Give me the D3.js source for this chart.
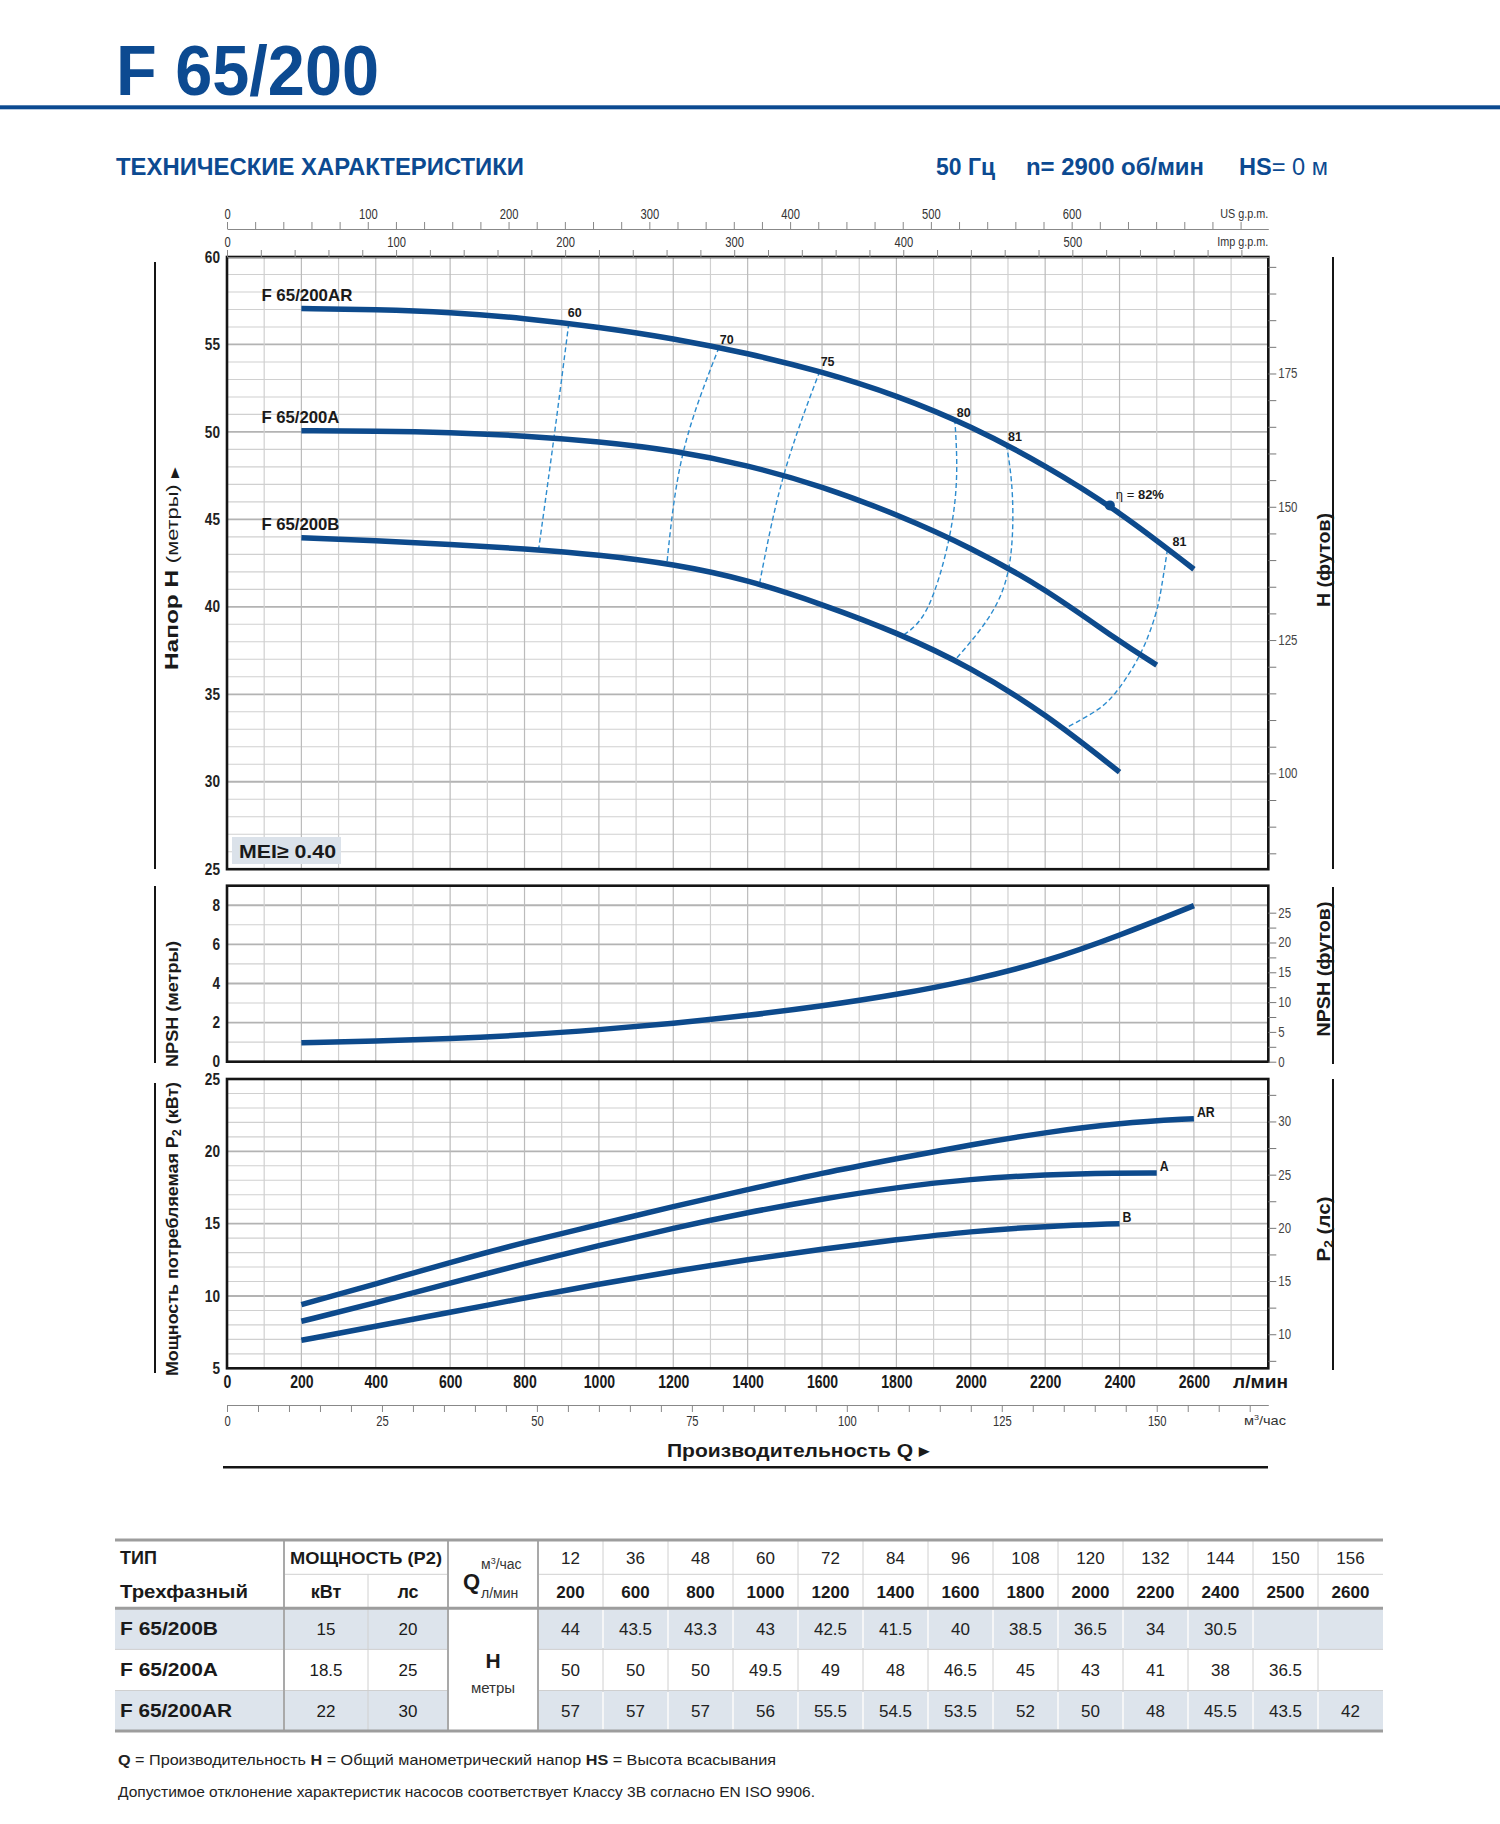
<!DOCTYPE html>
<html>
<head>
<meta charset="utf-8">
<script src="https://cdn.jsdelivr.net/npm/d3@7"></script>
<style>
  html, body { margin: 0; padding: 0; background: #fff; }
  svg { display: block; font-family: "Liberation Sans", Arial, sans-serif; }
</style>
</head>
<body>
<svg id="chart" width="1500" height="1824"></svg>
<script>
// ---- curve data (Q in l/min) ----
var flowAR = [200, 400, 600, 800, 1000, 1200, 1400, 1600, 1800, 2000, 2200, 2400, 2600];
var flowA  = [200, 400, 600, 800, 1000, 1200, 1400, 1600, 1800, 2000, 2200, 2400, 2500];
var flowB  = [200, 400, 600, 800, 1000, 1200, 1400, 1600, 1800, 2000, 2200, 2400];

var headAR = [57.05, 57.0, 56.85, 56.5, 56.0, 55.35, 54.5, 53.45, 52.1, 50.35, 48.1, 45.45, 42.15];
var headA  = [50.07, 50.05, 49.97, 49.78, 49.45, 48.95, 48.1, 46.9, 45.3, 43.4, 41.05, 38.0, 36.67];
var headB  = [43.95, 43.78, 43.58, 43.32, 42.98, 42.45, 41.55, 40.15, 38.55, 36.55, 33.9, 30.55];

var npsh = [0.97, 1.05, 1.17, 1.36, 1.63, 1.96, 2.36, 2.84, 3.42, 4.15, 5.1, 6.45, 7.98];

var powerAR = [9.4, 10.83, 12.33, 13.71, 14.93, 16.2, 17.35, 18.5, 19.49, 20.46, 21.31, 21.96, 22.26];
var powerA  = [8.25, 9.52, 10.9, 12.24, 13.48, 14.7, 15.78, 16.71, 17.51, 18.09, 18.39, 18.5, 18.5];
var powerB  = [6.94, 7.9, 8.87, 9.86, 10.83, 11.71, 12.51, 13.25, 13.89, 14.47, 14.82, 15.0];

var curveNames = ["F 65/200AR", "F 65/200A", "F 65/200B"];
var powerNames = ["AR", "A", "B"];

// efficiency iso-lines (Q, H pairs across the three curves)
var effNames = ["60", "70", "75", "80", "81", "81"];
var effFlows = [
  [919, 879, 838],
  [1323, 1227, 1183],
  [1594, 1497, 1432],
  [1957, 1962, 1942, 1885, 1818],
  [2096, 2112, 2102, 2044, 1958],
  [2529, 2513, 2495, 2455, 2398, 2341, 2253]
];
var effHeads = [
  [56.2, 49.65, 43.3],
  [54.83, 48.85, 42.5],
  [53.48, 47.52, 41.33],
  [50.73, 47.6, 43.95, 40.0, 38.37],
  [49.27, 46.3, 42.2, 39.25, 36.97],
  [43.3, 41.15, 39.43, 37.27, 35.33, 34.12, 33.05]
];
var effLabelQ = [935, 1344, 1615, 1981, 2119, 2561];
var effLabelH = [56.8, 55.25, 54.0, 51.1, 49.73, 43.72];
var bestQ = 2374, bestH = 45.8;

// ---- tick labels ----
var hTicks = [25, 30, 35, 40, 45, 50, 55, 60];
var ftLabels = [100, 125, 150, 175];
var npshTicks = [0, 2, 4, 6, 8];
var npshFtLabels = [0, 5, 10, 15, 20, 25];
var powerTicks = [5, 10, 15, 20, 25];
var hpLabels = [10, 15, 20, 25, 30];
var qTicks = [0, 200, 400, 600, 800, 1000, 1200, 1400, 1600, 1800, 2000, 2200, 2400, 2600];
var m3Labels = [0, 25, 50, 75, 100, 125, 150];
var usLabels = [0, 100, 200, 300, 400, 500, 600];
var impLabels = [0, 100, 200, 300, 400, 500];

// ---- table ----
var tableM3h = ["12", "36", "48", "60", "72", "84", "96", "108", "120", "132", "144", "150", "156"];
var tableLpm = ["200", "600", "800", "1000", "1200", "1400", "1600", "1800", "2000", "2200", "2400", "2500", "2600"];
var tableModels = ["F 65/200B", "F 65/200A", "F 65/200AR"];
var tableKw = ["15", "18.5", "22"];
var tableHp = ["20", "25", "30"];
var tableHeadB  = ["44", "43.5", "43.3", "43", "42.5", "41.5", "40", "38.5", "36.5", "34", "30.5", "", ""];
var tableHeadA  = ["50", "50", "50", "49.5", "49", "48", "46.5", "45", "43", "41", "38", "36.5", ""];
var tableHeadAR = ["57", "57", "57", "56", "55.5", "54.5", "53.5", "52", "50", "48", "45.5", "43.5", "42"];

// ---------------------------------------------------------------
var svg = d3.select("#chart");
var FONT = '"Liberation Sans", Arial, sans-serif';
var navy = "#0c4a91";
var lineBlue = "#0d4a8c";
var effBlue = "#2c8ccf";
var ink = "#1a1a1a";

var x = d3.scaleLinear().domain([0, 2800]).range([227, 1268.3]);
var yH = d3.scaleLinear().domain([25, 60]).range([869.2, 257]);
var yN = d3.scaleLinear().domain([0, 9]).range([1061.7, 885.7]);
var yP = d3.scaleLinear().domain([5, 25]).range([1368.3, 1079]);

function squeeze(sel, k) {
  sel.each(function () {
    var L = this.getComputedTextLength();
    if (L > 0) d3.select(this).attr("textLength", L * k).attr("lengthAdjust", "spacingAndGlyphs");
  });
}
function fit(sel, w) {
  sel.attr("textLength", w).attr("lengthAdjust", "spacingAndGlyphs");
}
function zip(a, b) { return a.map(function (d, i) { return [d, b[i]]; }); }

// ---- header ----
svg.append("text").attr("x", 116).attr("y", 95).attr("font-size", 70).attr("font-weight", 700)
  .attr("fill", navy).text("F 65/200").call(fit, 263);
svg.append("rect").attr("x", 0).attr("y", 105.3).attr("width", 1500).attr("height", 4).attr("fill", navy);
svg.append("text").attr("x", 116).attr("y", 175).attr("font-size", 23).attr("font-weight", 700)
  .attr("fill", navy).text("ТЕХНИЧЕСКИЕ ХАРАКТЕРИСТИКИ").call(fit, 408);
svg.append("text").attr("x", 936).attr("y", 175).attr("font-size", 23).attr("font-weight", 700)
  .attr("fill", navy).text("50 Гц").call(fit, 59);
svg.append("text").attr("x", 1026).attr("y", 175).attr("font-size", 23).attr("font-weight", 700)
  .attr("fill", navy).text("n= 2900 об/мин").call(fit, 178);
var hsT = svg.append("text").attr("x", 1239).attr("y", 175).attr("font-size", 23).attr("fill", navy);
hsT.append("tspan").attr("font-weight", 700).text("HS");
hsT.append("tspan").text("= 0 м");
hsT.call(fit, 89);

// ---- grid helper ----
var gridQ = d3.range(100, 2800, 100);
function panel(yScale, minorStep, majorStep) {
  var g = svg.append("g");
  var y0 = yScale.range()[0], y1 = yScale.range()[1];
  var d0 = yScale.domain()[0], d1 = yScale.domain()[1];
  var hs = d3.range(d0 + minorStep, d1, minorStep);
  function isMajor(d) { return Math.abs(d / majorStep - Math.round(d / majorStep)) < 1e-6; }
  g.selectAll("line.h").data(hs).join("line")
    .attr("x1", x(0)).attr("x2", x(2800))
    .attr("y1", function (d) { return yScale(d); }).attr("y2", function (d) { return yScale(d); })
    .attr("stroke", function (d) { return isMajor(d) ? "#b3b3b3" : "#d0d0d0"; })
    .attr("stroke-width", function (d) { return isMajor(d) ? 1.8 : 1.1; });
  g.selectAll("line.v").data(gridQ).join("line")
    .attr("x1", function (d) { return x(d); }).attr("x2", function (d) { return x(d); })
    .attr("y1", y1).attr("y2", y0)
    .attr("stroke", function (d) { return d % 200 === 0 ? "#bbbbbb" : "#d0d0d0"; })
    .attr("stroke-width", 1.2);
  return g;
}
function frame(yScale) {
  var y0 = yScale.range()[0], y1 = yScale.range()[1];
  svg.append("rect").attr("x", x(0)).attr("y", y1).attr("width", x(2800) - x(0)).attr("height", y0 - y1)
    .attr("fill", "none").attr("stroke", "#151515").attr("stroke-width", 2.6);
}

// ---- main H-Q panel ----
panel(yH, 1, 5);

// MEI box
svg.append("rect").attr("x", 232).attr("y", 837).attr("width", 109).attr("height", 27).attr("fill", "#dbe2ea");
svg.append("text").attr("x", 239).attr("y", 858).attr("font-size", 19).attr("font-weight", 700)
  .attr("fill", ink).text("MEI≥ 0.40").call(fit, 97);

// efficiency lines
var effLine = d3.line().x(function (d) { return x(d[0]); }).y(function (d) { return yH(d[1]); })
  .curve(d3.curveNatural);
svg.append("g").selectAll("path").data(effFlows.map(function (f, i) { return zip(f, effHeads[i]); }))
  .join("path").attr("d", effLine).attr("fill", "none").attr("stroke", effBlue)
  .attr("stroke-width", 1.4).attr("stroke-dasharray", "5,3");

// H-Q curves
var hqLine = d3.line().x(function (d) { return x(d[0]); }).y(function (d) { return yH(d[1]); })
  .curve(d3.curveBasis);
var hqData = [zip(flowAR, headAR), zip(flowA, headA), zip(flowB, headB)];
svg.append("g").selectAll("path").data(hqData).join("path")
  .attr("d", hqLine).attr("fill", "none").attr("stroke", lineBlue).attr("stroke-width", 5.5);

svg.append("g").selectAll("text").data(hqData).join("text")
  .attr("x", function (d) { return x(d[0][0]) - 40; })
  .attr("y", function (d) { return yH(d[0][1]) - 8; })
  .attr("font-size", 17).attr("font-weight", 700).attr("fill", ink)
  .text(function (d, i) { return curveNames[i]; })
  .each(function (d, i) { d3.select(this).call(fit, i === 0 ? 91 : 78); });

svg.append("g").selectAll("text").data(effNames).join("text")
  .attr("x", function (d, i) { return x(effLabelQ[i]); })
  .attr("y", function (d, i) { return yH(effLabelH[i]); })
  .attr("dy", "0.35em").attr("text-anchor", "middle")
  .attr("font-size", 12.5).attr("font-weight", 700).attr("fill", ink)
  .text(function (d) { return d; });

svg.append("circle").attr("cx", x(bestQ)).attr("cy", yH(bestH)).attr("r", 5).attr("fill", lineBlue);
var etaT = svg.append("text").attr("x", x(bestQ) + 6).attr("y", yH(bestH) - 6)
  .attr("font-size", 13).attr("fill", ink);
etaT.append("tspan").text("η = ");
etaT.append("tspan").attr("font-weight", 700).text("82%");

frame(yH);

// ---- NPSH panel ----
panel(yN, 1, 2);
svg.append("path").datum(zip(flowAR, npsh))
  .attr("d", d3.line().x(function (d) { return x(d[0]); }).y(function (d) { return yN(d[1]); }).curve(d3.curveBasis))
  .attr("fill", "none").attr("stroke", lineBlue).attr("stroke-width", 5.5);
frame(yN);

// ---- power panel ----
panel(yP, 1, 5);
var pLine = d3.line().x(function (d) { return x(d[0]); }).y(function (d) { return yP(d[1]); }).curve(d3.curveBasis);
var pData = [zip(flowAR, powerAR), zip(flowA, powerA), zip(flowB, powerB)];
svg.append("g").selectAll("path").data(pData).join("path")
  .attr("d", pLine).attr("fill", "none").attr("stroke", lineBlue).attr("stroke-width", 5.5);
svg.append("g").selectAll("text").data(pData).join("text")
  .attr("x", function (d) { return x(d[d.length - 1][0]) + 3; })
  .attr("y", function (d) { return yP(d[d.length - 1][1]) - 2; })
  .attr("font-size", 15).attr("font-weight", 700).attr("fill", ink)
  .text(function (d, i) { return powerNames[i]; })
  .call(squeeze, 0.82);
frame(yP);

// ---- left axes ----
function leftAxis(scale, vals) {
  var g = svg.append("g").attr("transform", "translate(" + x(0) + ",0)")
    .call(d3.axisLeft(scale).tickValues(vals).tickSize(0).tickPadding(7));
  g.select(".domain").remove();
  g.attr("font-family", FONT).attr("font-size", 16).attr("font-weight", 700);
  g.selectAll("text").attr("fill", "#222").call(squeeze, 0.85);
}
leftAxis(yH, hTicks);
leftAxis(yN, npshTicks);
leftAxis(yP, powerTicks);

// ---- right axes ----
function rightAxis(scale, vals, labels) {
  var g = svg.append("g").attr("transform", "translate(" + x(2800) + ",0)")
    .call(d3.axisRight(scale).tickValues(vals).tickSize(8).tickPadding(2)
      .tickFormat(function (d) { return labels.indexOf(d) >= 0 ? d : ""; }));
  g.select(".domain").remove();
  g.attr("font-family", FONT).attr("font-size", 14);
  g.selectAll("line").attr("stroke", "#777").attr("stroke-width", 1);
  g.selectAll("text").attr("fill", "#444").call(squeeze, 0.82);
}
var ftM = 3.28084, hpKw = 0.7355;
var yFt = d3.scaleLinear().domain([25 * ftM, 60 * ftM]).range(yH.range());
var yNFt = d3.scaleLinear().domain([0, 9 * ftM]).range(yN.range());
var yHp = d3.scaleLinear().domain([5 / hpKw, 25 / hpKw]).range(yP.range());
rightAxis(yFt, d3.range(85, 196, 5), ftLabels);
rightAxis(yNFt, d3.range(0, 26, 2.5), npshFtLabels);
rightAxis(yHp, d3.range(7.5, 34, 2.5), hpLabels);

// ---- top axes (US / Imp g.p.m.) ----
function topAxis(y, perUnit, vals, labels, unit) {
  var sc = d3.scaleLinear().domain([0, 2800 / perUnit]).range(x.range());
  var g = svg.append("g").attr("transform", "translate(0," + y + ")")
    .call(d3.axisTop(sc).tickValues(vals).tickSize(7).tickSizeOuter(0).tickPadding(3)
      .tickFormat(function (d) { return labels.indexOf(d) >= 0 ? d : ""; }));
  g.attr("font-family", FONT).attr("font-size", 14);
  g.select(".domain").attr("stroke", "#888");
  g.selectAll("line").attr("stroke", "#888");
  g.selectAll("text").attr("fill", "#333").call(squeeze, 0.8);
  svg.append("text").attr("x", x(2800)).attr("y", y - 11).attr("text-anchor", "end")
    .attr("font-size", 13.5).attr("fill", "#333").text(unit).call(squeeze, 0.8);
}
topAxis(229, 3.78541, d3.range(0, 740, 20), usLabels, "US g.p.m.");
topAxis(257, 4.54609, d3.range(0, 620, 20), impLabels, "Imp g.p.m.");

// ---- bottom axes ----
var gq = svg.append("g").attr("transform", "translate(0," + yP(5) + ")")
  .call(d3.axisBottom(x).tickValues(qTicks).tickSize(0).tickPadding(7).tickFormat(d3.format("d")));
gq.select(".domain").remove();
gq.attr("font-family", FONT).attr("font-size", 18).attr("font-weight", 700);
gq.selectAll("text").attr("fill", ink).call(squeeze, 0.78);
svg.append("text").attr("x", 1233).attr("y", 1388).attr("font-size", 18).attr("font-weight", 700)
  .attr("fill", ink).text("л/мин").call(fit, 55);

var xm3 = d3.scaleLinear().domain([0, 2800 * 0.06]).range(x.range());
var gm = svg.append("g").attr("transform", "translate(0,1405)")
  .call(d3.axisBottom(xm3).tickValues(d3.range(0, 166, 5)).tickSize(7).tickSizeOuter(0).tickPadding(4)
    .tickFormat(function (d) { return m3Labels.indexOf(d) >= 0 ? d : ""; }));
gm.attr("font-family", FONT).attr("font-size", 14);
gm.select(".domain").attr("stroke", "#888");
gm.selectAll("line").attr("stroke", "#888");
gm.selectAll("text").attr("fill", "#333").call(squeeze, 0.8);
var m3T = svg.append("text").attr("x", 1244).attr("y", 1425).attr("font-size", 13).attr("fill", "#333");
m3T.append("tspan").text("м");
m3T.append("tspan").attr("font-size", 8).attr("dy", -5).text("3");
m3T.append("tspan").attr("dy", 5).text("/час");
m3T.call(fit, 42);

var qT = svg.append("text").attr("x", 667).attr("y", 1457).attr("font-size", 19).attr("font-weight", 700).attr("fill", ink);
qT.append("tspan").text("Производительность Q ");
qT.append("tspan").attr("font-size", 12).attr("dy", -2).text("▶");
qT.call(fit, 262);
svg.append("line").attr("x1", 223).attr("x2", 1268).attr("y1", 1467.3).attr("y2", 1467.3)
  .attr("stroke", "#151515").attr("stroke-width", 2.6);

// ---- side bars and titles ----
var bars = [[155, 262, 869], [155, 886, 1063], [155, 1083, 1373], [1333, 257, 869], [1333, 887, 1064], [1333, 1079, 1370]];
svg.append("g").selectAll("line").data(bars).join("line")
  .attr("x1", function (d) { return d[0]; }).attr("x2", function (d) { return d[0]; })
  .attr("y1", function (d) { return d[1]; }).attr("y2", function (d) { return d[2]; })
  .attr("stroke", "#151515").attr("stroke-width", 2);

var lH = svg.append("text").attr("transform", "translate(178,569) rotate(-90)").attr("text-anchor", "middle")
  .attr("font-size", 19).attr("fill", ink);
lH.append("tspan").attr("font-weight", 700).text("Напор H ");
lH.append("tspan").attr("font-size", 17).text(" (метры) ");
lH.append("tspan").attr("font-size", 11).text(" ▶");
lH.call(fit, 202);

svg.append("text").attr("transform", "translate(178,1004) rotate(-90)").attr("text-anchor", "middle")
  .attr("font-size", 17).attr("font-weight", 700).attr("fill", ink).text("NPSH (метры)").call(fit, 126);

var lP = svg.append("text").attr("transform", "translate(178,1229) rotate(-90)").attr("text-anchor", "middle")
  .attr("font-size", 17).attr("font-weight", 700).attr("fill", ink);
lP.append("tspan").text("Мощность потребляемая P");
lP.append("tspan").attr("font-size", 12).attr("dy", 3).text("2");
lP.append("tspan").attr("dy", -3).text(" (кВт)");
lP.call(fit, 294);

svg.append("text").attr("transform", "translate(1330,560) rotate(-90)").attr("text-anchor", "middle")
  .attr("font-size", 18).attr("font-weight", 700).attr("fill", ink).text("H (футов)").call(fit, 94);
svg.append("text").attr("transform", "translate(1330,969) rotate(-90)").attr("text-anchor", "middle")
  .attr("font-size", 18).attr("font-weight", 700).attr("fill", ink).text("NPSH (футов)").call(fit, 135);
var rP = svg.append("text").attr("transform", "translate(1330,1229) rotate(-90)").attr("text-anchor", "middle")
  .attr("font-size", 18).attr("font-weight", 700).attr("fill", ink);
rP.append("tspan").text("P");
rP.append("tspan").attr("font-size", 12).attr("dy", 3).text("2");
rP.append("tspan").attr("dy", -3).text(" (лс)");
rP.call(fit, 65);

// ---- table ----
var tb = svg.append("g");
var tL = 115, tR = 1383;
var colQ = d3.scaleBand().domain(tableLpm).range([538, tR]);
var rowY = [1608.3, 1649.4, 1690.5, 1731];
var bg = "#dde4ec";
[0, 2].forEach(function (r) {
  tb.append("rect").attr("x", tL).attr("y", rowY[r]).attr("width", 448 - tL).attr("height", rowY[r + 1] - rowY[r]).attr("fill", bg);
  tb.append("rect").attr("x", 538).attr("y", rowY[r]).attr("width", tR - 538).attr("height", rowY[r + 1] - rowY[r]).attr("fill", bg);
});
// thin separators
tb.selectAll("line.dv").data(tableLpm.slice(1)).join("line")
  .attr("x1", function (d) { return colQ(d); }).attr("x2", function (d) { return colQ(d); })
  .attr("y1", 1540).attr("y2", 1731).attr("stroke", "#d0d0d0").attr("stroke-width", 1);
[0, 2].forEach(function (r) {
  tb.selectAll(null).data(tableLpm.slice(1)).join("line")
    .attr("x1", function (d) { return colQ(d); }).attr("x2", function (d) { return colQ(d); })
    .attr("y1", rowY[r] + 1.5).attr("y2", rowY[r + 1] - 1.5).attr("stroke", "#fff").attr("stroke-width", 1.5);
});
tb.append("line").attr("x1", 368).attr("x2", 368).attr("y1", 1574.3).attr("y2", 1731).attr("stroke", "#d0d0d0");
tb.append("line").attr("x1", 284).attr("x2", 448).attr("y1", 1574.3).attr("y2", 1574.3).attr("stroke", "#d0d0d0");
tb.append("line").attr("x1", 538).attr("x2", tR).attr("y1", 1574.3).attr("y2", 1574.3).attr("stroke", "#d0d0d0");
[rowY[1], rowY[2]].forEach(function (yy) {
  tb.append("line").attr("x1", tL).attr("x2", 448).attr("y1", yy).attr("y2", yy).attr("stroke", "#cfcfcf");
  tb.append("line").attr("x1", 538).attr("x2", tR).attr("y1", yy).attr("y2", yy).attr("stroke", "#cfcfcf");
});
[284, 448, 538].forEach(function (xx) {
  tb.append("line").attr("x1", xx).attr("x2", xx).attr("y1", 1540).attr("y2", 1731).attr("stroke", "#a9a9a9").attr("stroke-width", 2);
});
[1540, 1608.3, 1731].forEach(function (yy) {
  tb.append("line").attr("x1", tL).attr("x2", tR).attr("y1", yy).attr("y2", yy).attr("stroke", "#9d9d9d").attr("stroke-width", 3);
});

function tt(xx, yy, s, o) {
  o = o || {};
  var t = tb.append("text").attr("x", xx).attr("y", yy).attr("font-size", o.size || 17)
    .attr("font-weight", o.bold ? 700 : 400).attr("text-anchor", o.anchor || "start")
    .attr("fill", o.color || ink).text(s);
  if (o.w) t.call(fit, o.w);
  return t;
}
tt(120, 1564, "ТИП", { bold: true, size: 18 });
tt(120, 1598, "Трехфазный", { bold: true, size: 18, w: 128 });
tt(366, 1564, "МОЩНОСТЬ (P2)", { bold: true, size: 17, anchor: "middle", w: 152 });
tt(326, 1598, "кВт", { bold: true, size: 18, anchor: "middle" });
tt(408, 1598, "лс", { bold: true, size: 18, anchor: "middle" });
tt(463, 1589, "Q", { bold: true, size: 22 });
var m3h = tt(481, 1569, "", { size: 14, color: "#333" });
m3h.append("tspan").text("м");
m3h.append("tspan").attr("font-size", 9).attr("dy", -5).text("3");
m3h.append("tspan").attr("dy", 5).text("/час");
tt(481, 1598, "л/мин", { size: 14, color: "#333" });

tb.selectAll("text.m3").data(tableM3h).join("text").attr("class", "m3")
  .attr("x", function (d, i) { return colQ(tableLpm[i]) + colQ.bandwidth() / 2; }).attr("y", 1564)
  .attr("text-anchor", "middle").attr("font-size", 17).attr("fill", "#222").text(function (d) { return d; });
tb.selectAll("text.lpm").data(tableLpm).join("text").attr("class", "lpm")
  .attr("x", function (d) { return colQ(d) + colQ.bandwidth() / 2; }).attr("y", 1598)
  .attr("text-anchor", "middle").attr("font-size", 17).attr("font-weight", 700).attr("fill", ink).text(function (d) { return d; });

var tableHeads = [tableHeadB, tableHeadA, tableHeadAR];
tableModels.forEach(function (m, r) {
  var yy = (rowY[r] + rowY[r + 1]) / 2 + 6.5;
  tt(120, yy, m, { bold: true, size: 18, w: r === 2 ? 112 : 98 });
  tt(326, yy, tableKw[r], { anchor: "middle" });
  tt(408, yy, tableHp[r], { anchor: "middle" });
  tb.selectAll(null).data(tableHeads[r]).join("text")
    .attr("x", function (d, i) { return colQ(tableLpm[i]) + colQ.bandwidth() / 2; }).attr("y", yy)
    .attr("text-anchor", "middle").attr("font-size", 17).attr("fill", "#222").text(function (d) { return d; });
});
tt(493, 1668, "H", { bold: true, size: 21, anchor: "middle" });
tt(493, 1693, "метры", { size: 15, anchor: "middle", color: "#333" });

// ---- footer ----
var f1 = svg.append("text").attr("x", 118).attr("y", 1765).attr("font-size", 15).attr("fill", "#222");
f1.append("tspan").attr("font-weight", 700).text("Q");
f1.append("tspan").text(" = Производительность   ");
f1.append("tspan").attr("font-weight", 700).text("H");
f1.append("tspan").text(" = Общий манометрический напор   ");
f1.append("tspan").attr("font-weight", 700).text("HS");
f1.append("tspan").text(" = Высота всасывания");
f1.call(fit, 658);
svg.append("text").attr("x", 118).attr("y", 1797).attr("font-size", 15).attr("fill", "#222")
  .text("Допустимое отклонение характеристик насосов соответствует Классу 3В согласно EN ISO 9906.")
  .call(fit, 697);
</script>
</body>
</html>
